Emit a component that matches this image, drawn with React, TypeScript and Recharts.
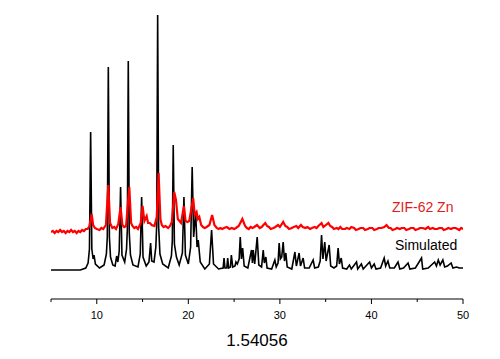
import { LineChart, Line, XAxis, YAxis } from 'recharts';

// 2-theta (deg) vs plotted intensity
const simulated: number[][] = [
  [5, 29], [8.2, 29], [8.8, 31], [9.05, 36], [9.2, 50], [9.33, 167], [9.46, 50], [9.6, 40], [9.7, 44], [9.85, 35],
  [10.3, 31], [10.8, 34], [11.05, 45], [11.15, 62], [11.26, 232], [11.38, 62], [11.5, 42], [11.75, 34], [12.0, 33],
  [12.17, 43], [12.3, 37], [12.45, 48], [12.6, 112], [12.75, 44], [13.05, 37], [13.25, 50], [13.34, 70], [13.44, 238],
  [13.55, 66], [13.68, 44], [13.95, 34], [14.5, 32], [14.75, 45], [14.9, 102], [15.05, 42], [15.4, 33], [15.7, 37],
  [15.88, 56], [16.0, 38], [16.25, 37], [16.45, 52], [16.55, 75], [16.65, 284], [16.76, 72], [16.9, 45], [17.2, 35],
  [17.8, 31], [18.15, 43], [18.25, 58], [18.35, 154], [18.48, 55], [18.7, 42], [19.0, 34], [19.35, 46], [19.52, 102],
  [19.68, 44], [20.0, 35], [20.25, 52], [20.42, 132], [20.58, 62], [20.8, 87], [20.95, 52], [21.08, 59], [21.3, 37],
  [21.8, 30], [22.3, 35], [22.54, 69], [22.75, 35], [23.3, 30], [23.8, 31], [23.9, 41], [24.0, 31], [24.2, 31],
  [24.3, 41], [24.4, 31], [24.6, 32], [24.7, 44], [24.85, 32], [25.1, 33], [25.2, 37], [25.35, 35], [25.55, 40],
  [25.67, 62], [25.8, 40], [25.93, 51], [26.1, 33], [26.5, 31], [26.9, 49], [27.0, 36], [27.09, 49], [27.25, 35],
  [27.52, 62], [27.7, 34], [28.0, 32], [28.18, 49], [28.3, 36], [28.47, 42], [28.6, 31], [29.1, 30], [29.45, 39],
  [29.6, 32], [29.8, 36], [29.92, 56], [30.05, 40], [30.2, 42], [30.36, 57], [30.5, 38], [30.65, 46], [30.8, 32],
  [31.3, 30], [31.64, 47], [31.8, 33], [32.1, 46], [32.25, 33], [32.54, 41], [32.7, 31], [33.2, 31], [33.63, 39],
  [33.8, 31], [34.2, 32], [34.4, 38], [34.55, 64], [34.7, 40], [34.9, 57], [35.05, 38], [35.38, 54], [35.55, 33],
  [35.9, 31], [36.2, 33], [36.36, 51], [36.5, 35], [36.7, 41], [36.85, 31], [37.3, 30], [37.6, 34], [37.8, 30],
  [38.37, 37], [38.5, 30], [38.9, 35], [39.1, 30], [39.8, 37], [40.0, 31], [40.3, 35], [40.5, 30], [41.0, 31],
  [41.39, 41], [41.55, 33], [41.8, 38], [42.0, 31], [42.5, 31], [42.9, 37], [43.1, 30], [43.5, 31], [44.0, 36],
  [44.2, 30], [44.8, 31], [45.47, 41], [45.6, 30], [46.2, 31], [46.9, 37], [47.1, 33], [47.3, 39], [47.5, 34],
  [47.8, 39], [48.0, 32], [48.3, 33], [48.7, 36], [48.9, 31], [49.3, 32], [49.6, 31], [50, 31],
];

const zif62: number[][] = [
  [5, 67], [5.2, 68], [5.4, 66], [5.6, 68], [5.8, 67], [6.0, 69], [6.2, 67], [6.4, 68], [6.6, 66], [6.8, 68],
  [7.0, 67], [7.2, 69], [7.4, 67], [7.6, 68], [7.8, 66], [8.0, 68], [8.2, 67], [8.4, 69], [8.6, 68], [8.8, 70],
  [9.0, 70], [9.2, 73], [9.44, 85], [9.6, 74], [9.8, 71], [10.0, 70], [10.3, 69], [10.5, 71], [10.7, 70], [11.0, 74],
  [11.26, 114], [11.45, 76], [11.7, 71], [11.9, 72], [12.1, 70], [12.35, 75], [12.6, 92], [12.8, 74], [13.0, 72],
  [13.2, 73], [13.55, 112], [13.75, 76], [13.9, 73], [14.1, 71], [14.3, 72], [14.5, 70], [14.8, 76], [15.0, 93],
  [15.2, 78], [15.45, 83], [15.6, 76], [15.8, 76], [16.0, 74], [16.3, 73], [16.55, 82], [16.75, 126], [16.95, 80],
  [17.1, 74], [17.3, 72], [17.5, 73], [17.8, 71], [18.0, 73], [18.2, 77], [18.46, 107], [18.65, 99], [18.85, 80],
  [19.2, 76], [19.52, 93], [19.7, 78], [19.9, 77], [20.1, 78], [20.53, 101], [20.7, 84], [20.9, 87], [21.05, 80],
  [21.2, 82], [21.4, 74], [21.6, 72], [21.8, 71], [22.0, 72], [22.3, 74], [22.6, 84], [22.85, 74], [23.1, 71],
  [23.3, 70], [23.5, 71], [23.7, 70], [23.9, 71], [24.2, 72], [24.5, 70], [24.75, 71], [25.0, 70], [25.2, 71],
  [25.5, 73], [25.9, 80], [26.2, 73], [26.4, 71], [26.6, 70], [26.8, 72], [27.0, 71], [27.2, 72], [27.5, 74],
  [27.8, 71], [28.0, 72], [28.4, 76], [28.6, 73], [28.8, 72], [29.0, 70], [29.3, 71], [29.5, 72], [29.8, 74],
  [30.0, 72], [30.36, 77], [30.6, 73], [30.8, 72], [31.0, 70], [31.3, 71], [31.5, 72], [31.8, 73], [32.0, 71],
  [32.3, 74], [32.5, 72], [32.8, 71], [33.0, 72], [33.3, 70], [33.5, 71], [33.8, 72], [34.0, 71], [34.2, 73],
  [34.55, 76], [34.75, 72], [34.9, 73], [35.3, 76], [35.5, 73], [35.7, 72], [35.9, 70], [36.2, 71], [36.4, 70],
  [36.6, 72], [36.8, 70], [37.1, 70], [37.3, 71], [37.6, 70], [37.8, 72], [38.1, 71], [38.3, 69], [38.6, 70],
  [38.8, 71], [39.1, 71], [39.3, 69], [39.6, 70], [39.8, 71], [40.1, 71], [40.3, 69], [40.6, 70], [40.8, 71],
  [41.1, 71], [41.4, 72], [41.65, 74], [41.9, 71], [42.1, 71], [42.3, 69], [42.6, 70], [42.8, 71], [43.1, 70],
  [43.3, 71], [43.6, 71], [43.8, 69], [44.1, 70], [44.3, 71], [44.6, 71], [44.8, 69], [45.1, 70], [45.3, 71],
  [45.6, 71], [45.9, 70], [46.2, 72], [46.4, 70], [46.7, 71], [46.9, 70], [47.2, 70], [47.4, 71], [47.7, 71],
  [47.9, 69], [48.2, 70], [48.4, 71], [48.7, 70], [48.9, 71], [49.2, 71], [49.4, 70], [49.6, 69], [49.8, 71], [50, 70],
];

const xTicks = [5, 10, 15, 20, 25, 30, 35, 40, 45, 50];

const simData = simulated.map(([x, y]) => ({ x, y }));
const zifData = zif62.map(([x, y]) => ({ x, y }));

const AxisTick = (props: any) => {
  const { x, y, payload } = props;
  const major = payload.value % 10 === 0;
  return (
    <g>
      <line x1={x} x2={x} y1={y} y2={y + (major ? 5 : 3)} stroke="#000" />
      {major && (
        <text x={x} y={y + 20} textAnchor="middle" fontSize={11} fill="#000">
          {payload.value}
        </text>
      )}
    </g>
  );
};

export default function App() {
  return (
    <div
      style={{
        position: 'absolute',
        left: 0,
        top: 0,
        width: 500,
        height: 359,
        background: '#fff',
        fontFamily: '"Liberation Sans", Arial, sans-serif',
      }}
    >
      <LineChart width={500} height={359} margin={{ top: 14, right: 37, left: 51, bottom: 0 }}>
        <XAxis
          type="number"
          dataKey="x"
          domain={[5, 50]}
          ticks={xTicks}
          allowDataOverflow
          tickLine={false}
          tickSize={0}
          tickMargin={0}
          tick={<AxisTick />}
          height={60}
          stroke="#000"
          label={{ value: '1.54056', position: 'insideBottom', offset: 13, fontSize: 17, fill: '#000' }}
        />
        <YAxis hide type="number" domain={[0, 285]} allowDataOverflow />
        <Line
          data={simData}
          dataKey="y"
          stroke="#000"
          strokeWidth={1.6}
          dot={false}
          isAnimationActive={false}
        />
        <Line
          data={zifData}
          dataKey="y"
          stroke="#ff0000"
          strokeWidth={2.2}
          dot={false}
          isAnimationActive={false}
        />
      </LineChart>
      <div style={{ position: 'absolute', left: 392, top: 199, fontSize: 14, color: '#e01b1b' }}>ZIF-62 Zn</div>
      <div style={{ position: 'absolute', left: 395, top: 237, fontSize: 14, color: '#000' }}>Simulated</div>
    </div>
  );
}
